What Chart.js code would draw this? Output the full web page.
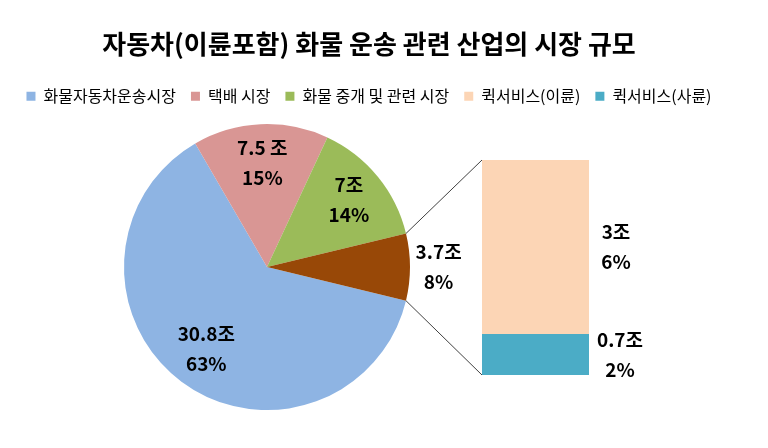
<!DOCTYPE html>
<html>
<head>
<meta charset="utf-8">
<script src="https://cdn.jsdelivr.net/npm/chart.js@4.4.1/dist/chart.umd.min.js"></script>
<style>
  html, body { margin: 0; padding: 0; background: #fff; }
  #wrap { position: relative; width: 768px; height: 448px; }
  #wrap canvas { position: absolute; left: 0; top: 0; }
  #bar { pointer-events: none; }
</style>
</head>
<body>
<div id="wrap">
  <canvas id="pie" width="768" height="448"></canvas>
  <canvas id="bar" width="768" height="448"></canvas>
</div>
<script>
const chartTitle = "자동차(이륜포함) 화물 운송 관련 산업의 시장 규모"

// main pie
const pieLabels = ["화물자동차운송시장", "택배 시장", "화물 중개 및 관련 시장", "퀵서비스"]
const pieValues = [30.8, 7.5, 7, 3.7]
const pieValueText = ["30.8조", "7.5 조", "7조", "3.7조"]
const piePercent = ["63%", "15%", "14%", "8%"]
const pieColors = ["#8EB4E3", "#D99694", "#9BBB59", "#984807"]

// split-out bar (quick services)
const quickLabels = ["퀵서비스(이륜)", "퀵서비스(사륜)"]
const quickValues = [3, 0.7]
const quickValueText = ["3조", "0.7조"]
const quickPercent = ["6%", "2%"]
const quickColors = ["#FCD5B5", "#4BACC6"]

Chart.defaults.font.family = "'Noto Sans CJK KR', 'Noto Sans', sans-serif"
Chart.defaults.color = "#000"

const pieTotal = pieValues.reduce((a, b) => a + b, 0)
const quickTotal = quickValues.reduce((a, b) => a + b, 0)
const lastIdx = pieValues.length - 1

// centre the split-out slice on 3 o'clock
const pieRotation = 90 + (pieValues[lastIdx] / pieTotal) * 180

const labelFont = "bold 19px 'Noto Sans CJK KR', sans-serif"
const lineGap = 30

function drawTwoLines(ctx, x, y, a, b) {
    ctx.fillText(a, x, y - lineGap / 2)
    ctx.fillText(b, x, y + lineGap / 2)
}

const pieLabelPlugin = {
    id: "pieLabels",
    afterDatasetsDraw(chart) {
        const ctx = chart.ctx
        const arcs = chart.getDatasetMeta(0).data
        const factors = [0.71, 0.73, 0.74, 1.2]
        ctx.save()
        ctx.font = labelFont
        ctx.fillStyle = "#000"
        ctx.textAlign = "center"
        ctx.textBaseline = "middle"
        arcs.forEach((arc, i) => {
            const p = arc.getProps(["x", "y", "startAngle", "endAngle", "outerRadius"])
            const mid = (p.startAngle + p.endAngle) / 2
            const r = p.outerRadius * factors[i]
            drawTwoLines(ctx, p.x + Math.cos(mid) * r, p.y + Math.sin(mid) * r, pieValueText[i], piePercent[i])
        })
        ctx.restore()
    }
}

const pieChart = new Chart(document.getElementById("pie"), {
    type: "pie",
    data: {
        labels: pieLabels,
        datasets: [{
            data: pieValues,
            backgroundColor: pieColors,
            borderWidth: 0,
            radius: 143
        }]
    },
    options: {
        responsive: false,
        animation: false,
        rotation: pieRotation,
        radius: 143,
        layout: { padding: { top: 0, right: 30, bottom: 28, left: 0 } },
        scales: {
            // empty box on the right, leaves room for the bar
            room: {
                type: "linear",
                position: "right",
                display: true,
                ticks: { display: false },
                grid: { display: false },
                border: { display: false },
                afterFit: (s) => { s.width = 204 }
            }
        },
        plugins: {
            title: {
                display: true,
                text: chartTitle,
                color: "#000",
                font: { size: 26, weight: "bold" },
                padding: { top: 29, bottom: 13 }
            },
            legend: {
                position: "top",
                onClick: null,
                labels: {
                    color: "#262626",
                    font: { size: 16 },
                    boxWidth: 9,
                    boxHeight: 9,
                    padding: 15,
                    generateLabels: () => {
                        const names = pieLabels.slice(0, lastIdx).concat(quickLabels)
                        const cols = pieColors.slice(0, lastIdx).concat(quickColors)
                        return names.map((t, i) => ({
                            text: t,
                            fillStyle: cols[i],
                            strokeStyle: cols[i],
                            lineWidth: 0,
                            hidden: false,
                            index: i
                        }))
                    }
                }
            },
            tooltip: { enabled: false }
        }
    },
    plugins: [pieLabelPlugin]
})

const barExtrasPlugin = {
    id: "barExtras",
    afterDatasetsDraw(chart) {
        const ctx = chart.ctx
        const bottomBar = chart.getDatasetMeta(0).data[0]
        const topBar = chart.getDatasetMeta(1).data[0]
        const tb = topBar.getProps(["x", "y", "base", "width"])
        const bb = bottomBar.getProps(["x", "y", "base", "width"])
        const left = tb.x - tb.width / 2
        const right = tb.x + tb.width / 2

        // connectors from the split slice to the bar
        const arc = pieChart.getDatasetMeta(0).data[lastIdx]
        const a = arc.getProps(["x", "y", "startAngle", "endAngle", "outerRadius"])
        ctx.save()
        ctx.strokeStyle = "#404040"
        ctx.lineWidth = 1
        ctx.beginPath()
        ctx.moveTo(a.x + Math.cos(a.startAngle) * a.outerRadius, a.y + Math.sin(a.startAngle) * a.outerRadius)
        ctx.lineTo(left, tb.y)
        ctx.moveTo(a.x + Math.cos(a.endAngle) * a.outerRadius, a.y + Math.sin(a.endAngle) * a.outerRadius)
        ctx.lineTo(left, bb.base)
        ctx.stroke()

        ctx.font = labelFont
        ctx.fillStyle = "#000"
        ctx.textAlign = "center"
        ctx.textBaseline = "middle"
        drawTwoLines(ctx, right + 27, (tb.y + tb.base) / 2, quickValueText[0], quickPercent[0])
        drawTwoLines(ctx, right + 31, (bb.y + bb.base) / 2, quickValueText[1], quickPercent[1])
        ctx.restore()
    }
}

new Chart(document.getElementById("bar"), {
    type: "bar",
    data: {
        labels: [""],
        datasets: [
            { label: quickLabels[1], data: [quickValues[1]], backgroundColor: quickColors[1] },
            { label: quickLabels[0], data: [quickValues[0]], backgroundColor: quickColors[0] }
        ]
    },
    options: {
        responsive: false,
        animation: false,
        layout: { padding: { top: 160, right: 179, bottom: 73, left: 482 } },
        datasets: { bar: { categoryPercentage: 1, barPercentage: 1, borderWidth: 0 } },
        scales: {
            x: { display: false, stacked: true },
            y: { display: false, stacked: true, min: 0, max: quickTotal }
        },
        plugins: {
            legend: { display: false },
            tooltip: { enabled: false }
        }
    },
    plugins: [barExtrasPlugin]
})
</script>
</body>
</html>
